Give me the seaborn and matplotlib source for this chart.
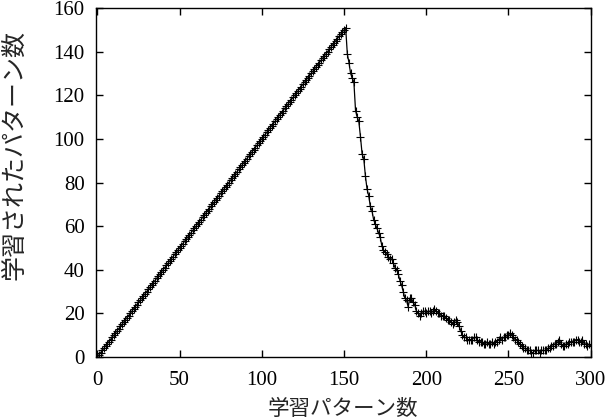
import matplotlib
matplotlib.use("Agg")
import matplotlib.pyplot as plt
import seaborn as sns
import pandas as pd

# learned-pattern counts
patterns = list(range(0, 301))
learned_rise = [
    0, 1, 2, 3, 4, 5, 6, 7, 8, 9, 10, 11, 12, 13, 14, 15, 16, 17, 18, 19,
    20, 21, 22, 23, 24, 25, 26, 27, 28, 29, 30, 31, 32, 33, 34, 35, 36, 37, 38, 39,
    40, 41, 42, 43, 44, 45, 46, 47, 48, 49, 50, 51, 52, 53, 54, 55, 56, 57, 58, 59,
    60, 61, 62, 63, 64, 65, 66, 67, 68, 69, 70, 71, 72, 73, 74, 75, 76, 77, 78, 79,
    80, 81, 82, 83, 84, 85, 86, 87, 88, 89, 90, 91, 92, 93, 94, 95, 96, 97, 98, 99,
    100, 101, 102, 103, 104, 105, 106, 107, 108, 109, 110, 111, 112, 113, 114, 115,
    116, 117, 118, 119, 120, 121, 122, 123, 124, 125, 126, 127, 128, 129, 130, 131,
    132, 133, 134, 135, 136, 137, 138, 139, 140, 141, 142, 143, 144, 145, 146, 147,
    148, 149, 150, 151,
]
learned_decay = [
    139, 135, 130, 128, 126, 113, 110, 108, 101, 93, 91, 83, 77, 74, 69, 67, 63, 61,
    59, 57, 55, 51, 49, 48, 47, 46, 45, 45, 43, 41, 40, 38, 35, 33, 30, 27, 26, 23,
    27, 27, 25, 24, 21, 20, 19, 20, 21, 21, 20, 21, 21, 20, 21, 22, 21, 20, 20, 19,
    19, 19, 18, 17, 17, 16, 15, 16, 17, 16, 14, 12, 10, 9, 9, 8, 8, 8, 8, 9, 9, 8,
    7, 7, 7, 6, 6, 7, 6, 6, 7, 6, 7, 7, 8, 9, 8, 9, 9, 10, 10, 11, 10, 9, 8, 8,
    7, 6, 5, 4, 4, 3, 3, 3, 2, 2, 3, 3, 3, 2, 3, 3, 3, 3, 4, 4, 5, 5, 6, 6,
    7, 8, 6, 5, 5, 6, 6, 7, 7, 7, 7, 8, 8, 7, 7, 8, 6, 6, 5, 6, 5,
]
learned = learned_rise + learned_decay
n = min(len(patterns), len(learned))
df = pd.DataFrame({"x": patterns[:n], "y": learned[:n]})

x_ticks = [0, 50, 100, 150, 200, 250, 300]
y_ticks = [0, 20, 40, 60, 80, 100, 120, 140, 160]
x_label = "学習パターン数"
y_label = "学習されたパターン数"

sns.set_style("ticks")
plt.rcParams["font.family"] = ["Liberation Serif", "Noto Sans CJK JP", "DejaVu Sans"]

fig = plt.figure(figsize=(6.08, 4.2), dpi=100)
W, H = 608, 420
ax = fig.add_axes([95.7 / W, 1 - 357 / H, 495 / W, 349 / H])

sns.lineplot(data=df, x="x", y="y", ax=ax, color="black", linewidth=0.9,
             marker="+", markersize=5.5, markeredgewidth=0.8, markeredgecolor="black")

ax.set_xlim(-1, 300)
ax.set_ylim(0, 160)
ax.set_xticks(x_ticks)
ax.set_yticks(y_ticks)
ax.tick_params(direction="in", length=5, width=1, top=True, right=True,
               labelsize=15, colors="black")
ax.tick_params(axis="y", pad=8)
ax.tick_params(axis="x", pad=10)
for s in ax.spines.values():
    s.set_linewidth(1)
    s.set_color("black")
ax.set_xlabel("")
ax.set_ylabel("")
fig.text(342.5 / W, 1 - 410 / H, x_label, fontsize=15.5, ha="center", va="center")
fig.text(15 / W, 1 - 155 / H, y_label, fontsize=18, ha="center", va="center",
         rotation=90)

fig.savefig("out.png", dpi=100)
